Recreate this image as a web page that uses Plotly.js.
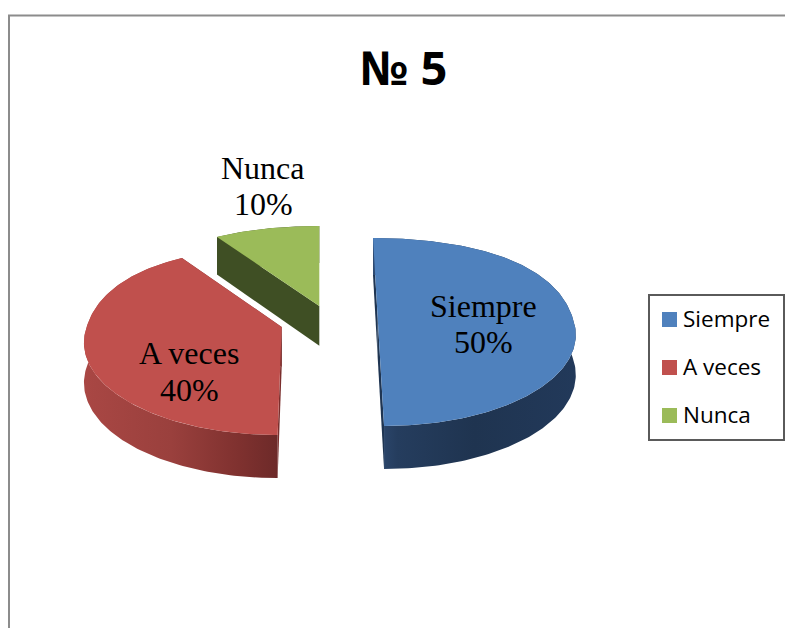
<!DOCTYPE html>
<html>
<head>
<meta charset="utf-8">
<script src="https://cdn.plot.ly/plotly-3.0.1.min.js"></script>
<style>html,body{margin:0;padding:0;background:#fff}#chart{width:785px;height:628px}</style>
</head>
<body>
<div id="chart"></div>
<script>
// Data
const categories = ["Siempre", "A veces", "Nunca"];
const values = [50, 40, 10];
const chartTitle = "№ 5";

// Styles
const topColors = ["#4f81bd", "#c0504d", "#9bbb59"];
const sideColors = ["#1f3552", "#7a2e2c", "#3f4f24"];
const wallStops = [
  [[0, "#2f4b72"], [0.12, "#253d5e"], [0.5, "#1f3450"], [1, "#22395a"]],
  [[0, "#a94744"], [0.45, "#9a403d"], [0.8, "#7f312f"], [1, "#6d2a29"]],
  [[0, "#3f4f24"], [1, "#3f4f24"]]
];

// Projection geometry of the 3-D pie (pixel-based axes)
const apexX = [377.7, 281.7, 319.3];
const apexY = [318, 327, 306];
const vanishX = 319.3, shear = 0.62, persp = 0.149, farFullness = 0.21;
const radX = 195, radY = 91.9, depth = 39.7;

function project(i, deg, down) {
  const t = deg * Math.PI / 180, u = Math.sin(t), v = Math.cos(t);
  const s = 1 / (1 + persp * v);
  const full = v > 0 ? 1 + farFullness * (1 - v) : 1;
  const x = apexX[i] + radX * u * s + shear * (apexX[i] - vanishX) * (s - 1);
  const y = apexY[i] - radY * v * s * full + (down ? depth * Math.sqrt(s) : 0);
  return [x, y];
}
function apex(i, down) {
  return [apexX[i], apexY[i] + (down ? depth : 0)];
}
function poly(points) {
  return { x: points.map(p => p[0]), y: points.map(p => p[1]) };
}
function arc(i, a0, a1, down) {
  const out = [];
  const n = Math.max(2, Math.round(Math.abs(a1 - a0)));
  for (let k = 0; k <= n; k++) out.push(project(i, a0 + (a1 - a0) * k / n, down));
  return out;
}

const total = values.reduce((a, b) => a + b, 0);
const traces = [];
let angle = 0;
values.forEach((val, i) => {
  const a0 = angle, a1 = angle + 360 * val / total;
  angle = a1;
  const base = { type: "scatter", mode: "lines", fill: "toself", line: { width: 0 },
                 showlegend: false, name: categories[i], hoverinfo: "name" };
  [a0, a1].forEach(a => {
    const face = poly([project(i, a, false), apex(i, false), apex(i, true), project(i, a, true)]);
    traces.push(Object.assign({}, base, face, { fillcolor: sideColors[i] }));
  });
  const wall = poly(arc(i, a0, a1, false).concat(arc(i, a1, a0, true)));
  traces.push(Object.assign({}, base, wall, {
    fillcolor: sideColors[i],
    fillgradient: { type: "horizontal", colorscale: wallStops[i] }
  }));
  const top = poly([apex(i, false)].concat(arc(i, a0, a1, false)));
  traces.push(Object.assign({}, base, top, { fillcolor: topColors[i] }));
});

// Text and legend placement
const labelX = [483, 189, 263];
const nameY = [306, 353, 168];
const pctY = [342, 390, 204];
const labelFont = { family: "Liberation Serif", size: 32, color: "#000" };
const annotations = [];
categories.forEach((c, i) => {
  annotations.push({ x: labelX[i], y: nameY[i], text: c });
  annotations.push({ x: labelX[i], y: pctY[i], text: Math.round(100 * values[i] / total) + "%" });
});
annotations.forEach(a => Object.assign(a, { xref: "x", yref: "y", showarrow: false,
  xanchor: "center", yanchor: "middle", font: labelFont }));

const legendY = [319.5, 367.5, 415.5];
const legendTextY = [318, 366, 414];
const shapes = [
  { type: "line", x0: 9, x1: 9, y0: 15, y1: 628, line: { color: "#8c8c8c", width: 2 } },
  { type: "line", x0: 8, x1: 785, y0: 15.5, y1: 15.5, line: { color: "#8c8c8c", width: 2 } },
  { type: "rect", x0: 649, x1: 784, y0: 295, y1: 440, line: { color: "#5a5a5a", width: 2 }, fillcolor: "#fff" }
];
categories.forEach((c, i) => {
  shapes.push({ type: "rect", x0: 662, x1: 677, y0: legendY[i] - 7.5, y1: legendY[i] + 7.5,
                line: { width: 0 }, fillcolor: topColors[i] });
  annotations.push({ xref: "x", yref: "y", x: 681, y: legendTextY[i], text: c, showarrow: false,
                     xanchor: "left", yanchor: "middle",
                     font: { family: "Open Sans", size: 22.5, color: "#000" } });
});
annotations.push({ xref: "x", yref: "y", x: 403.5, y: 67, text: "<b>" + chartTitle + "</b>", showarrow: false,
                   xanchor: "center", yanchor: "middle",
                   font: { family: "Open Sans", size: 47, color: "#000" } });

const hiddenAxis = { visible: false, fixedrange: true };
Plotly.newPlot("chart", traces, {
  width: 785, height: 628,
  margin: { l: 0, r: 0, t: 0, b: 0 },
  paper_bgcolor: "#fff", plot_bgcolor: "#fff",
  showlegend: false,
  xaxis: Object.assign({ range: [0, 785] }, hiddenAxis),
  yaxis: Object.assign({ range: [628, 0] }, hiddenAxis),
  shapes: shapes,
  annotations: annotations
}, { displayModeBar: false, staticPlot: true });
</script>
</body>
</html>
